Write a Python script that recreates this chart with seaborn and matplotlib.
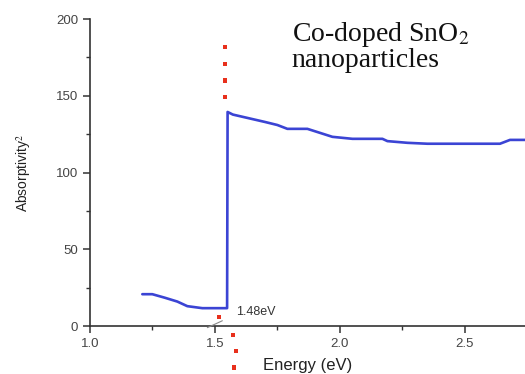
import numpy as np
import pandas as pd
import matplotlib.pyplot as plt
import seaborn as sns

# absorption curve
energy = [1.21, 1.25, 1.30, 1.35, 1.39, 1.45, 1.549, 1.551, 1.572, 1.62, 1.70, 1.75,
          1.79, 1.87, 1.97, 2.05, 2.17, 2.19, 2.27, 2.35, 2.50, 2.64, 2.68, 2.74]
absorb = [20.8, 20.8, 18.5, 16.0, 13.0, 11.7, 11.7, 139.5, 137.8, 136.0, 133.0, 131.0,
          128.5, 128.5, 123.3, 122.0, 122.0, 120.5, 119.4, 118.8, 118.8, 118.8, 121.3, 121.3]

# red dotted marker of the band gap (two visible pieces)
gap_x = [1.54, 1.54, 1.54, 1.54, 1.516, 1.572, 1.584, 1.576]
gap_y = [182, 171, 160, 149, 6, -6, -16, -27]

gap_label = "1.48eV"

df = pd.DataFrame({"Energy": energy, "A2": absorb})
gap = pd.DataFrame({"x": gap_x, "y": gap_y})

sns.set_theme(style="ticks")
plt.rcParams['font.family'] = ['Liberation Sans', 'DejaVu Sans']
plt.rcParams['mathtext.fontset'] = 'stix'

fig = plt.figure(figsize=(5.25, 3.74), dpi=100)
ax = fig.add_axes([0.171, 0.128, 0.829, 0.821])

sns.lineplot(data=df, x="Energy", y="A2", sort=False, estimator=None,
             color="#3b44d4", linewidth=1.9, ax=ax)
sns.scatterplot(data=gap, x="x", y="y", marker="s", s=9, color="#e8301c",
                edgecolor="none", clip_on=False, ax=ax, zorder=5)

# small leader line + label for the gap value
ax.plot([1.47, 1.53], [-1.0, 3.5], color="#888888", lw=0.8, clip_on=False, zorder=6)
ax.text(1.583, 9.5, gap_label, fontsize=9, color="#333333", va="center")

ax.text(1.808, 199.5, "Co-doped SnO$_2$\nnanoparticles", family="Liberation Serif",
        fontsize=20, va="top", ha="left", linespacing=0.95, color="#111111")

ax.set_xlim(1.0, 2.74)
ax.set_ylim(0, 200)
ax.set_xticks([1.0, 1.5, 2.0, 2.5])
ax.set_xticks([1.25, 1.75, 2.25], minor=True)
ax.set_yticks([0, 50, 100, 150, 200])
ax.set_yticks([25, 75, 125, 175], minor=True)
ax.set_xticklabels(["1.0", "1.5", "2.0", "2.5"])

ax.set_xlabel("Energy (eV)", fontsize=12, color="#222222", labelpad=6)
ax.set_ylabel("Absorptivity$^2$", fontsize=10, color="#222222", labelpad=16)

for s in ["top", "right"]:
    ax.spines[s].set_visible(False)
for s in ["left", "bottom"]:
    ax.spines[s].set_color("#333333")
    ax.spines[s].set_linewidth(1.2)
ax.tick_params(which="major", length=5, width=1.1, color="#333333",
               labelsize=9.5, labelcolor="#444444")
ax.tick_params(which="minor", length=3, width=1.0, color="#333333")

plt.savefig("out.png", dpi=100)
